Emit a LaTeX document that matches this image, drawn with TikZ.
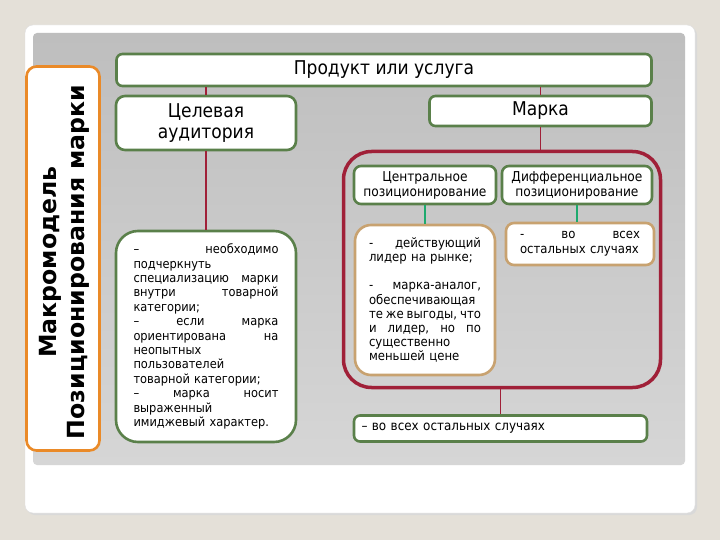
\documentclass[tikz,border=0pt]{standalone}
\usepackage{fontspec}
\setmainfont{DejaVu Sans Condensed}
\newfontfamily\widefont{DejaVu Sans}
\definecolor{bgbeige}{RGB}{228,224,216}
\definecolor{boxgreen}{RGB}{90,128,74}
\definecolor{framered}{RGB}{160,32,56}
\definecolor{lineorange}{RGB}{234,138,40}
\definecolor{boxtan}{RGB}{200,162,112}
\definecolor{lineteal}{RGB}{30,170,110}
\newcommand\jl[1]{\makebox[\hsize][l]{#1}}
\tikzset{
  gbox/.style={draw=boxgreen, line width=2.6pt, fill=white, rounded corners=6pt, inner sep=0pt, align=center},
  tbox/.style={draw=boxtan, line width=2.6pt, fill=white, inner sep=0pt},
  redline/.style={draw=framered, line width=1.8pt},
  tealline/.style={draw=lineteal, line width=1.8pt},
  small/.style={font=\fontsize{12.7}{14.4}\selectfont},
}
\begin{document}
\begin{tikzpicture}[x=1pt,y=-1pt]
\path[use as bounding box, fill=bgbeige] (0,0) rectangle (720,540);
% slide panel
\fill[gray!30, rounded corners=8pt] (27,27) rectangle (697,515);
\filldraw[fill=white, draw=gray!25, rounded corners=8pt] (25,25) rectangle (695,513);
\shade[top color={rgb,255:red,190;green,190;blue,190}, bottom color={rgb,255:red,214;green,214;blue,214}, rounded corners=4pt] (33,33) rectangle (685,465);

% vertical title
\node[draw=lineorange, line width=2.6pt, fill=white, rounded corners=10pt, minimum width=73pt, minimum height=384pt, inner sep=0pt] (side) at (63,258.5) {};
\node[rotate=90, align=center, font={\widefont\bfseries\fontsize{23.6}{28}\selectfont}] (sidetext) at (64,262) {Макромодель\\Позиционирования марки};

% top row
\node[gbox, minimum width=535pt, minimum height=32pt, font=\fontsize{19}{20}\selectfont] (prod) at (384,70) {Продукт или услуга};
\node[gbox, rounded corners=9pt, minimum width=180pt, minimum height=54pt, font=\fontsize{19}{21}\selectfont] (aud) at (206,123) {Целевая\\аудитория};
\node[gbox, minimum width=222pt, minimum height=30pt, font=\fontsize{19}{20}\selectfont] (marka) at (540.5,111) {Марка};

% left text box
\node[gbox, rounded corners=22pt, minimum width=180pt, minimum height=211pt, text width=145pt, align=left, small] (audtxt) at (206,336.5) {%
\jl{– \hfill необходимо}\\
подчеркнуть\\
\jl{специализацию \hfill марки}\\
\jl{внутри \hfill товарной}\\
категории;\\
\jl{– \hfill если \hfill марка}\\
\jl{ориентирована \hfill на}\\
неопытных\\
пользователей\\
товарной категории;\\
\jl{– \hfill марка \hfill носит}\\
выраженный\\
имиджевый характер.};

% red frame
\node[draw=framered, line width=3.5pt, rounded corners=28pt, minimum width=317pt, minimum height=236pt, inner sep=0pt] (frame) at (502,269.5) {};

\node[gbox, rounded corners=7pt, minimum width=142pt, minimum height=38pt, font=\fontsize{13.6}{15}\selectfont] (cen) at (425,185) {Центральное\\позиционирование};
\node[gbox, rounded corners=7pt, minimum width=150pt, minimum height=38pt, font=\fontsize{13.6}{15}\selectfont] (dif) at (577,185) {Дифференциальное\\позиционирование};

\node[tbox, rounded corners=16pt, minimum width=140pt, minimum height=150pt, text width=112pt, align=left, font=\fontsize{13}{14.2}\selectfont] (centxt) at (425,300) {%
\jl{- \hfill действующий}\\
лидер на рынке;\\[14.2pt]
\jl{- \hfill марка-аналог,}\\
обеспечивающая\\
\jl{те\hfill же\hfill выгоды,\hfill что}\\
\jl{и \hfill лидер, \hfill но \hfill по}\\
существенно\\
меньшей цене};

\node[tbox, rounded corners=8pt, minimum width=148pt, minimum height=42pt, text width=120pt, align=left, font=\fontsize{13}{15}\selectfont] (diftxt) at (580,244) {%
\jl{- \hfill во \hfill всех}\\
остальных случаях};

\node[gbox, minimum width=293pt, minimum height=26pt, text width=278pt, align=left, font=\fontsize{13.3}{15}\selectfont] (other) at (500.5,428.5) {– во всех остальных случаях};

% connectors
\draw[redline] (prod.south -| aud.north) -- (aud.north);
\draw[redline] (aud.south) -- (audtxt.north);
\draw[redline] (prod.south -| marka.north) -- (marka.north);
\draw[redline] (marka.south) -- (marka.south |- frame.north);
\draw[redline] (frame.south -| other.north) -- (other.north);
\draw[tealline] (cen.south) -- (centxt.north);
\draw[tealline] (dif.south) -- (dif.south |- diftxt.north);
\end{tikzpicture}
\end{document}
